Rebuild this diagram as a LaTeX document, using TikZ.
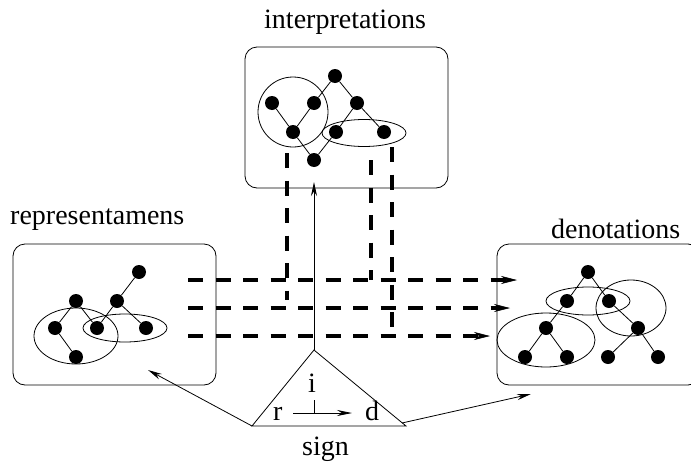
\documentclass[tikz,border=0pt]{standalone}
\usepackage{fontspec}
\setmainfont{Liberation Serif}
\usetikzlibrary{arrows.meta}
\begin{document}
\begin{tikzpicture}[x=1pt,y=-1pt,
  dot/.style={circle,fill=black,inner sep=0pt,minimum size=14pt},
  edge/.style={line width=0.8pt},
  grp/.style={line width=0.8pt},
  sbox/.style={draw,line width=0.8pt,rounded corners=12pt,inner sep=0pt},
  lbl/.style={font=\fontsize{28}{31}\selectfont,inner sep=0pt,anchor=base west},
  dsh/.style={line width=4pt,dash pattern=on 15pt off 12.5pt},
  dtip/.style={-{Stealth[length=16pt,width=8pt,line width=0.6pt]}},
  thinarr/.style={line width=0.8pt,-{Stealth[length=14pt,width=6pt]}}]
\useasboundingbox (0,0) rectangle (691,466);

% boxes
\node[sbox,minimum width=203pt,minimum height=141pt] (I) at (346.5,117.5) {};
\node[sbox,minimum width=203pt,minimum height=141pt] (R) at (114.5,314.5) {};
\node[sbox,minimum width=203pt,minimum height=141pt] (D) at (598.5,314.5) {};

% labels
\node[lbl] (tI) at (264,28) {interpretations};
\node[lbl] (tR) at (10,224) {representamens};
\node[lbl] (tD) at (551,238) {denotations};
\node[lbl] (tS) at (302,455) {sign};

% interpretations tree
\node[dot] (iA) at (335,76) {};
\node[dot] (iB) at (272,103) {};
\node[dot] (iC) at (314,103) {};
\node[dot] (iD) at (357,103) {};
\node[dot] (iE) at (293,132) {};
\node[dot] (iF) at (336,132) {};
\node[dot] (iG) at (384,132) {};
\node[dot] (iH) at (314,160) {};
\draw[edge] (iA) -- (iC) (iA) -- (iD) (iB) -- (iE) (iC) -- (iE)
  (iE) -- (iH) (iD) -- (iF) (iD) -- (iG) (iF) -- (iH);
\draw[grp] (293,112) circle [radius=35pt];
\draw[grp] (364,133) ellipse [x radius=42pt,y radius=13.5pt];

% representamens tree
\node[dot] (ra) at (139,272) {};
\node[dot] (rb) at (76,301) {};
\node[dot] (rc) at (117,301) {};
\node[dot] (rd) at (55,328) {};
\node[dot] (re) at (97,328) {};
\node[dot] (rf) at (146,328) {};
\node[dot] (rg) at (76,357) {};
\draw[edge] (ra) -- (rc) (rb) -- (rd) (rb) -- (re) (rc) -- (re)
  (rc) -- (rf) (rd) -- (rg);
\draw[grp] (76,336) ellipse [x radius=42pt,y radius=28pt];
\draw[grp] (125,328) ellipse [x radius=42pt,y radius=14pt];

% denotations tree
\node[dot] (dA) at (588,272) {};
\node[dot] (dB) at (567,301) {};
\node[dot] (dC) at (609,301) {};
\node[dot] (dD) at (546,328) {};
\node[dot] (dE) at (638,328) {};
\node[dot] (dF) at (525,357) {};
\node[dot] (dG) at (567,357) {};
\node[dot] (dH) at (608,357) {};
\node[dot] (dI) at (658,357) {};
\draw[edge] (dA) -- (dB) (dA) -- (dC) (dB) -- (dD) (dC) -- (dE)
  (dD) -- (dF) (dD) -- (dG) (dE) -- (dH) (dE) -- (dI);
\draw[grp] (588,301) ellipse [x radius=42pt,y radius=14pt];
\draw[grp] (631,308) ellipse [x radius=35pt,y radius=28pt];
\draw[grp] (546,340) ellipse [x radius=49pt,y radius=27pt];

% dashed connectors
\coordinate (h1s) at (188,280); \coordinate (h1e) at (517,280);
\coordinate (h2s) at (188,308); \coordinate (h2e) at (510,308);
\coordinate (h3s) at (188,336); \coordinate (h3e) at (490,336);
\coordinate (v1s) at (287,153); \coordinate (v1e) at (287,300);
\coordinate (v2s) at (371,160); \coordinate (v2e) at (371,280);
\coordinate (v3s) at (392,147); \coordinate (v3e) at (392,336);
\draw[dsh,dtip] (h1s) -- (h1e);
\draw[dsh,dtip] (h2s) -- (h2e);
\draw[dsh,dtip] (h3s) -- (h3e);
\draw[dsh] (v1s) -- (v1e);
\draw[dsh] (v2s) -- (v2e);
\draw[dsh] (v3s) -- (v3e);

% sign triangle
\coordinate (tL) at (252,426);
\coordinate (tRt) at (406,426);
\coordinate (tA) at (314,350);
\draw[line width=0.8pt] (tL) -- (tRt) -- (tA) -- cycle;
\node[lbl,anchor=base] (li) at (312,392) {i};
\node[lbl] (lr) at (273,420) {r};
\node[lbl] (ld) at (365,420) {d};
\coordinate (ra0) at (293,413);
\coordinate (ra1) at (352,413);
\coordinate (tk) at (314,400);
\draw[line width=0.8pt,-{Stealth[length=15pt,width=6pt]}] (ra0) -- (ra1);
\draw[line width=0.8pt] (tk) -- (tk |- ra0);

% arrows from sign
\coordinate (iEnd) at (314,182);
\coordinate (rEnd) at (148,370);
\coordinate (dEnd) at (531,394);
\coordinate (tRs) at (402,423);
\draw[thinarr] (tA) -- (iEnd);
\draw[thinarr] (tL) -- (rEnd);
\draw[thinarr] (tRs) -- (dEnd);
\end{tikzpicture}
\end{document}
